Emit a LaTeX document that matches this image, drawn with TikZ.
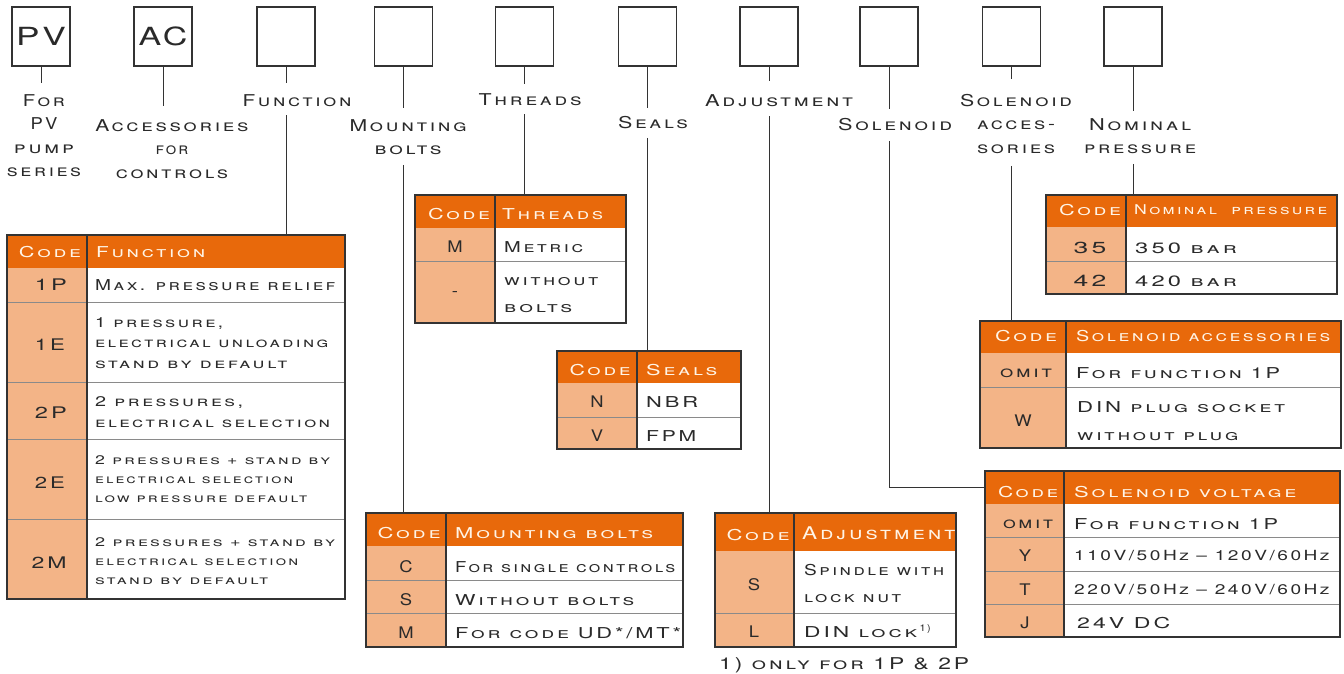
\documentclass[tikz,border=0pt]{standalone}
\usepackage{fontspec}
\usepackage{graphicx}
\setmainfont{TeX Gyre Heros}[Letters=SmallCaps, FakeStretch=1.15, LetterSpace=15]
\newfontfamily\boxfont{TeX Gyre Heros}[FakeStretch=1.15, LetterSpace=10]
\usetikzlibrary{calc}
\definecolor{hdrc}{HTML}{E8690B}
\definecolor{codec}{HTML}{F3B487}
\definecolor{txtc}{HTML}{2A2A2A}
\definecolor{hdrtxt}{HTML}{FFF4E6}
\definecolor{linec}{HTML}{333333}
\definecolor{innerc}{HTML}{8A8A8A}
\newcommand\fLab{\fontsize{16.3}{23.5}\selectfont}
\newcommand\fHead{\fontsize{15}{18}\selectfont}
\newcommand\fBody{\fontsize{15}{18}\selectfont}
\newcommand\fCode{\fontsize{16}{18}\selectfont}
\newcommand\fA{\fontsize{14}{20.5}\selectfont}
\newcommand\fB{\fontsize{12.5}{18.8}\selectfont}
\newcommand\fC{\fontsize{15}{27}\selectfont}
\newcommand\tw[2]{\resizebox{#1pt}{\height}{#2}}
\newcommand\ctab[8]{%
  \fill[codec] (#2,#6) rectangle (#3,#7);
  \node[hdrbox, minimum width={#4-#2}, minimum height={#6-#5}, anchor=north west] (#1) at (#2,#5) {};
  \foreach \yy in {#8} \draw[innerl] (#2,\yy) -- (#4,\yy);
  \draw[outerl] (#3,#5) -- (#3,#7);
  \draw[outerl] (#2,#5) rectangle (#4,#7);
}
\begin{document}
\begin{tikzpicture}[x=1pt,y=-1pt,
  topbox/.style={draw=linec, line width=1.2pt, minimum width=58pt, minimum height=59pt, inner sep=0pt, text=txtc, font=\boxfont\fontsize{25}{25}\selectfont},
  lead/.style={draw=linec, line width=1pt},
  lab/.style={inner sep=0pt, align=center, text=txtc, font=\fLab},
  hdrbox/.style={fill=hdrc, draw=none, inner sep=0pt},
  innerl/.style={draw=innerc, line width=0.9pt},
  outerl/.style={draw=linec, line width=1.3pt},
  cell/.style={inner sep=0pt, anchor=west, align=left, text=txtc, font=\fBody},
  code/.style={inner sep=0pt, text=txtc, font=\fCode},
  htxt/.style={inner sep=0pt, anchor=west, text=hdrtxt, font=\fHead},
  hcode/.style={inner sep=0pt, text=hdrtxt, font=\fHead},
]
\useasboundingbox (0,0) rectangle (1344,674);

% top boxes
\node[topbox] (b1) at (41,36.5) {\tw{50}{PV}};
\node[topbox] (b2) at (163,36.5) {\tw{49}{AC}};
\node[topbox] (b3) at (286,36.5) {};
\node[topbox] (b4) at (403.5,36.5) {};
\node[topbox] (b5) at (524.5,36.5) {};
\node[topbox] (b6) at (647.5,36.5) {};
\node[topbox] (b7) at (769,36.5) {};
\node[topbox] (b8) at (889,36.5) {};
\node[topbox] (b9) at (1011.5,36.5) {};
\node[topbox] (b10) at (1133,36.5) {};

% labels
\node[lab, anchor=north] (l1) at (44,94) {\tw{42}{For}\\\tw{27}{PV}\\\tw{60}{pump}\\\tw{74}{series}};
\node[lab, anchor=north] (l2) at (172,119) {\tw{153}{Accessories}\\\tw{33}{for}\\\tw{112}{controls}};
\node[lab, anchor=north] (l3) at (297,94) {\tw{109}{Function}};
\node[lab, anchor=north] (l4) at (408,119) {\tw{117}{Mounting}\\\tw{67}{bolts}};
\node[lab, anchor=north] (l5) at (530,93) {\tw{103}{Threads}};
\node[lab, anchor=north] (l6) at (653,116) {\tw{70}{Seals}};
\node[lab, anchor=north] (l7) at (779,94) {\tw{148}{Adjustment}};
\node[lab, anchor=north] (l8) at (895,118) {\tw{114}{Solenoid}};
\node[lab, anchor=north] (l9) at (1016,94) {\tw{112}{Solenoid}\\\tw{78}{acces-}\\\tw{78}{sories}};
\node[lab, anchor=north] (l10) at (1140,118) {\tw{102}{Nominal}\\\tw{112}{pressure}};

% tables
\ctab{t1}{7}{87}{345}{235}{268}{599}{302,382,439,519}
\ctab{t2}{415}{495}{626}{195}{228}{323}{261}
\ctab{t3}{557}{637}{741}{351}{383}{449}{417}
\ctab{t4}{366}{446}{683}{513}{546}{647}{580,613}
\ctab{t5}{715}{794}{956}{513}{551}{647}{613}
\ctab{t6}{1046}{1126}{1337}{195}{227}{294}{261}
\ctab{t7}{980}{1066}{1341}{321}{353}{448}{387}
\ctab{t8}{985}{1064}{1340}{471}{504}{637}{537,571,604}

% upper connectors
\foreach \i/\g in {1/11,2/13,3/11,4/11,5/9,6/8,7/13,8/9,9/15,10/7}
  \draw[lead] (b\i.south) -- ($(b\i.south |- l\i.north)+(0,-\g)$);
% lower connectors
\draw[lead] ($(b3.south |- l3.south)+(0,9)$) -- (b3.south |- t1.north);
\draw[lead] ($(b4.south |- l4.south)+(0,10)$) -- (b4.south |- t4.north);
\draw[lead] ($(b5.south |- l5.south)+(0,9)$) -- (b5.south |- t2.north);
\draw[lead] ($(b6.south |- l6.south)+(0,9)$) -- (b6.south |- t3.north);
\draw[lead] ($(b7.south |- l7.south)+(0,10)$) -- (b7.south |- t5.north);
\draw[lead] ($(b8.south |- l8.south)+(0,10)$) |- (t8.west);
\draw[lead] ($(b9.south |- l9.south)+(0,12)$) -- (b9.south |- t7.north);
\draw[lead] ($(b10.south |- l10.south)+(0,10)$) -- (b10.south |- t6.north);

% Function table
\node[hcode] (h1c) at (50,252) {\tw{62}{Code}};
\node[htxt] (h1t) at (96,252) {\tw{109}{Function}};
\node[code] (c11) at (51,285) {\tw{32}{1P}};
\node[cell] (d11) at (95,285) {\tw{240}{Max. pressure relief}};
\node[code] (c12) at (50,345) {\tw{30}{1E}};
\node[cell, font=\fA] (d12) at (95,343) {\tw{128}{1 pressure,}\\\tw{233}{electrical unloading}\\\tw{192}{stand by default}};
\node[code] (c13) at (51,413) {\tw{32}{2P}};
\node[cell, font=\fA] (d13) at (95,412) {\tw{148}{2 pressures,}\\\tw{235}{electrical selection}};
\node[code] (c14) at (50,483) {\tw{30}{2E}};
\node[cell, font=\fB] (d14) at (95,479) {\tw{235}{2 pressures + stand by}\\\tw{198}{electrical selection}\\\tw{212}{low pressure default}};
\node[code] (c15) at (49,563) {\tw{35}{2M}};
\node[cell, font=\fB] (d15) at (95,561) {\tw{240}{2 pressures + stand by}\\\tw{203}{electrical selection}\\\tw{173}{stand by default}};

% Threads table
\node[hcode] (h2c) at (459,214) {\tw{62}{Code}};
\node[htxt] (h2t) at (502,214) {\tw{101}{Threads}};
\node[code] (c21) at (455,247) {M};
\node[cell] (d21) at (504,247) {\tw{79}{Metric}};
\node[code] (c22) at (455,294) {-};
\node[cell, font=\fC] (d22) at (504,295) {\tw{94}{without}\\\tw{68}{bolts}};

% Seals table
\node[hcode] (h3c) at (600,370) {\tw{61}{Code}};
\node[htxt] (h3t) at (646,370) {\tw{71}{Seals}};
\node[code] (c31) at (597,402) {N};
\node[cell] (d31) at (646,402) {\tw{52}{NBR}};
\node[code] (c32) at (597,436) {V};
\node[cell] (d32) at (646,436) {\tw{50}{FPM}};

% Mounting bolts table
\node[hcode] (h4c) at (409,533) {\tw{63}{Code}};
\node[htxt] (h4t) at (455,533) {\tw{198}{Mounting bolts}};
\node[code] (c41) at (406,567) {C};
\node[cell] (d41) at (455,567) {\tw{220}{For single controls}};
\node[code] (c42) at (406,600) {S};
\node[cell] (d42) at (455,600) {\tw{179}{Without bolts}};
\node[code] (c43) at (406,633) {M};
\node[cell] (d43) at (455,633) {\tw{226}{For code UD*/MT*}};

% Adjustment table
\node[hcode] (h5c) at (758,535) {\tw{63}{Code}};
\node[htxt, font=\fontsize{17.5}{18}\selectfont] (h5t) at (802,533) {\tw{153}{Adjustment}};
\node[code] (c51) at (754,585) {S};
\node[cell, font=\fC] (d51) at (804,583) {\tw{140}{Spindle with}\\\tw{97}{lock nut}};
\node[code] (c52) at (754,632) {L};
\node[cell] (d52) at (804,631) {\tw{113}{DIN lock}\,\raisebox{6pt}{\fontsize{9.5}{9.5}\selectfont 1)}};
\node[inner sep=0pt, anchor=west, text=txtc, font=\fLab] (fn) at (719,665) {\tw{250}{1) only for 1P \& 2P}};

% Nominal pressure table
\node[hcode] (h6c) at (1090,210) {\tw{62}{Code}};
\node[htxt, font=\fontsize{13.5}{18}\selectfont] (h6t) at (1134,210) {\tw{193}{Nominal\ \ pressure}};
\node[code] (c61) at (1090,248) {\tw{33}{35}};
\node[cell] (d61) at (1135,248) {\tw{102}{350 bar}};
\node[code] (c62) at (1090,281) {\tw{33}{42}};
\node[cell] (d62) at (1135,281) {\tw{102}{420 bar}};

% Solenoid accessories table
\node[hcode] (h7c) at (1026,336) {\tw{62}{Code}};
\node[htxt] (h7t) at (1076,336) {\tw{254}{Solenoid accessories}};
\node[code] (c71) at (1026,373) {\tw{52}{omit}};
\node[cell] (d71) at (1076,373) {\tw{204}{For function 1P}};
\node[code] (c72) at (1023,421) {W};
\node[cell, font=\fontsize{15}{28}\selectfont] (d72) at (1077,421) {\tw{208}{DIN plug socket}\\\tw{161}{without plug}};

% Solenoid voltage table
\node[hcode] (h8c) at (1028,492) {\tw{60}{Code}};
\node[htxt] (h8t) at (1074,492) {\tw{222}{Solenoid voltage}};
\node[code] (c81) at (1028,524) {\tw{50}{omit}};
\node[cell] (d81) at (1074,524) {\tw{204}{For function 1P}};
\node[code] (c82) at (1025,556) {Y};
\node[cell, font=\fA] (d82) at (1074,556) {\tw{255}{110V/50Hz -- 120V/60Hz}};
\node[code] (c83) at (1025,590) {T};
\node[cell, font=\fA] (d83) at (1074,590) {\tw{255}{220V/50Hz -- 240V/60Hz}};
\node[code] (c84) at (1025,623) {J};
\node[cell] (d84) at (1077,623) {\tw{93}{24V DC}};
\end{tikzpicture}
\end{document}
